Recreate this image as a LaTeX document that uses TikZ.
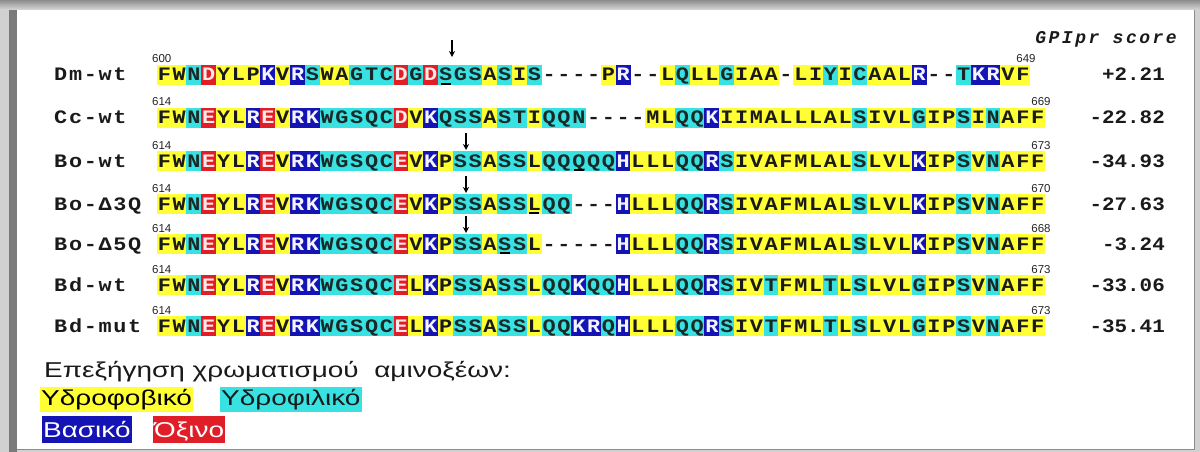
\documentclass[tikz,border=0pt]{standalone}
\usepackage{fontspec}
\usepackage{graphicx}
\setmainfont{Liberation Sans}
\newfontfamily\seqfamily{Liberation Mono}
\newfontfamily\headfamily[LetterSpace=14]{Liberation Mono}
\usetikzlibrary{arrows.meta}
\definecolor{filly}{HTML}{FFFF33}
\definecolor{fillc}{HTML}{38E2E2}
\definecolor{fillb}{HTML}{1414B4}
\definecolor{fillr}{HTML}{E01E28}
\definecolor{txty}{HTML}{1A1A1A}
\definecolor{txtc}{HTML}{1A2828}
\definecolor{txtb}{HTML}{F4F4FF}
\definecolor{txtr}{HTML}{FFE8E8}
\definecolor{txtn}{HTML}{1A1A1A}
\definecolor{framegray}{HTML}{7A7A7A}
\newcount\seqcol
\newcommand\seqrow[5]{\seqcol=0 \def\seqy{#2}\def\seqname{#1}\def\seqxo{#3}\seqloop#4\seqstop#5\seqstop}
\def\seqloop#1#2\seqstop#3#4\seqstop{%
  \advance\seqcol by 1
  \pgfmathsetmacro\seqx{\seqxo+(\the\seqcol-1)*14.8}%
  \if n#3\else\fill[fill#3] (\seqx-0.2,\seqy-10) rectangle ++(15.2,20);\fi
  \node[seqch,text=txt#3] (\seqname-\the\seqcol) at (\seqx+7.4,\seqy+6) {\scalebox{1.15}[1]{#1}};%
  \ifx\relax#2\relax\else\seqloop#2\seqstop#4\seqstop\fi}
\newcommand\wide[1]{\scalebox{1.3}[1]{#1}}
\begin{document}
\begin{tikzpicture}[x=1pt,y=-1pt,
  seqch/.style={anchor=base,inner sep=0pt,font=\seqfamily\bfseries\fontsize{19}{21}\selectfont},
  numlab/.style={anchor=base,inner sep=0pt,text=black!85,font=\fontsize{11.5}{12}\selectfont},
  score/.style={anchor=base east,inner sep=0pt,text=txtn,font=\seqfamily\bfseries\fontsize{19}{21}\selectfont},
  cut/.style={-{Stealth[length=6pt,width=6pt]},line width=1.3pt},
  uline/.style={line width=1.3pt},
  legtext/.style={anchor=base west,inner sep=0pt,text=black!90,font=\fontsize{21.5}{24}\selectfont},
  legbox/.style={anchor=base west,inner xsep=1pt,inner ysep=0pt,text height=18pt,text depth=7pt,font=\fontsize{21.5}{24}\selectfont}]
\useasboundingbox (0,0) rectangle (1200,452);
% frame
\fill[black!18] (0,0) rectangle (1200,452);
\shade[top color=black!45,bottom color=black!15] (0,0) rectangle (1200,10);
\fill[white] (17,10) rectangle (1194,449);
\fill[framegray] (9,10) rectangle (17,452);
\draw[black!45,line width=1pt] (17,449) -- (1194,449) -- (1194,10);
% header
\node[anchor=base east,inner sep=0pt,text=txtn,font=\headfamily\bfseries\itshape\fontsize{18}{20}\selectfont] (hd) at (1177,44) {GPIpr score};
% row labels
\seqrow{L1}{75}{53.4}{Dm-wt}{nnnnn}
\seqrow{L2}{118}{53.4}{Cc-wt}{nnnnn}
\seqrow{L3}{161}{53.4}{Bo-wt}{nnnnn}
\seqrow{L4}{204}{53.4}{Bo-Δ3Q}{nnnnnn}
\seqrow{L5}{244}{53.4}{Bo-Δ5Q}{nnnnnn}
\seqrow{L6}{285}{53.4}{Bd-wt}{nnnnn}
\seqrow{L7}{326}{53.4}{Bd-mut}{nnnnnn}
% sequences
\seqrow{S1}{75}{157}{FWNDYLPKVRSWAGTCDGDSGSASIS----PR--LQLLGIAA-LIYICAALR--TKRVF}{yycryyybybcyycccrcrcccycycnnnnybnnycyycyyynyycycyyybnncbbyy}
\seqrow{S2}{118}{157}{FWNEYLREVRKWGSQCDVKQSSASTIQQN----MLQQKIIMALLLALSIVLGIPSINAFF}{yycryybrybbcccccrybcccyccycccnnnnyyccbyyyyyyyyycyyycyycycyyy}
\seqrow{S3}{161}{157}{FWNEYLREVRKWGSQCEVKPSSASSLQQQQQHLLLQQRSIVAFMLALSLVLKIPSVNAFF}{yycryybrybbcccccrybyccyccycccccbyyyccbcyyyyyyyycyyybyycycyyy}
\seqrow{S4}{204}{157}{FWNEYLREVRKWGSQCEVKPSSASSLQQ---HLLLQQRSIVAFMLALSLVLKIPSVNAFF}{yycryybrybbcccccrybyccyccyccnnnbyyyccbcyyyyyyyycyyybyycycyyy}
\seqrow{S5}{244}{157}{FWNEYLREVRKWGSQCEVKPSSASSL-----HLLLQQRSIVAFMLALSLVLKIPSVNAFF}{yycryybrybbcccccrybyccyccynnnnnbyyyccbcyyyyyyyycyyybyycycyyy}
\seqrow{S6}{285}{157}{FWNEYLREVRKWGSQCELKPSSASSLQQKQQHLLLQQRSIVTFMLTLSLVLGIPSVNAFF}{yycryybrybbcccccrybyccyccyccbccbyyyccbcyycyyycycyyycyycycyyy}
\seqrow{S7}{326}{157}{FWNEYLREVRKWGSQCELKPSSASSLQQKRQHLLLQQRSIVTFMLTLSLVLGIPSVNAFF}{yycryybrybbcccccrybyccyccyccbbcbyyyccbcyycyyycycyyycyycycyyy}
% start numbers
\node[numlab,anchor=base west] (b1) at (152,63) {600};
\node[numlab,anchor=base west] (b2) at (152,106) {614};
\node[numlab,anchor=base west] (b3) at (152,149) {614};
\node[numlab,anchor=base west] (b4) at (152,192) {614};
\node[numlab,anchor=base west] (b5) at (152,232) {614};
\node[numlab,anchor=base west] (b6) at (152,273) {614};
\node[numlab,anchor=base west] (b7) at (152,314) {614};
% end numbers
\node[numlab] (e1) at (1026,63) {649};
\node[numlab] (e2) at (1041,106) {669};
\node[numlab] (e3) at (1041,149) {673};
\node[numlab] (e4) at (1041,192) {670};
\node[numlab] (e5) at (1041,232) {668};
\node[numlab] (e6) at (1041,273) {673};
\node[numlab] (e7) at (1041,314) {673};
% cleavage arrows
\coordinate (a1s) at (452,40); \coordinate (a1e) at (452,57);
\coordinate (a3s) at (466,133); \coordinate (a3e) at (466,150);
\coordinate (a4s) at (466,176); \coordinate (a4e) at (466,193);
\coordinate (a5s) at (466,216); \coordinate (a5e) at (466,233);
\draw[cut] (a1s) -- (a1e);
\draw[cut] (a3s) -- (a3e);
\draw[cut] (a4s) -- (a4e);
\draw[cut] (a5s) -- (a5e);
% underlines
\draw[uline] ([xshift=-5pt,yshift=-3pt]S1-20.base) -- ([xshift=5pt,yshift=-3pt]S1-20.base);
\draw[uline] ([xshift=-5pt,yshift=-3pt]S3-29.base) -- ([xshift=5pt,yshift=-3pt]S3-29.base);
\draw[uline] ([xshift=-5pt,yshift=-3pt]S4-26.base) -- ([xshift=5pt,yshift=-3pt]S4-26.base);
\draw[uline] ([xshift=-5pt,yshift=-3pt]S5-24.base) -- ([xshift=5pt,yshift=-3pt]S5-24.base);
% scores
\node[score] (g1) at (1165,81) {\scalebox{1.1}[1]{+2.21}};
\node[score] (g2) at (1165,124) {\scalebox{1.1}[1]{-22.82}};
\node[score] (g3) at (1165,167) {\scalebox{1.1}[1]{-34.93}};
\node[score] (g4) at (1165,210) {\scalebox{1.1}[1]{-27.63}};
\node[score] (g5) at (1165,250) {\scalebox{1.1}[1]{-3.24}};
\node[score] (g6) at (1165,291) {\scalebox{1.1}[1]{-33.06}};
\node[score] (g7) at (1165,332) {\scalebox{1.1}[1]{-35.41}};
% legend
\node[legtext] (lg) at (44,377) {\wide{Επεξήγηση χρωματισμού\ \ αμινοξέων:}};
\node[legbox,fill=filly,text=black] (lhy) at (40,405) {\wide{Υδροφοβικό}};
\node[legbox,fill=fillc,text=black!90] (lhc) at (220,405) {\wide{Υδροφιλικό}};
\node[legbox,fill=fillb,text=white,text height=21pt,text depth=6pt] (lbs) at (42,437) {\wide{Βασικό}};
\node[legbox,fill=fillr,text=white,text height=21pt,text depth=6pt] (lac) at (153,437) {\wide{Όξινο}};
\end{tikzpicture}
\end{document}
